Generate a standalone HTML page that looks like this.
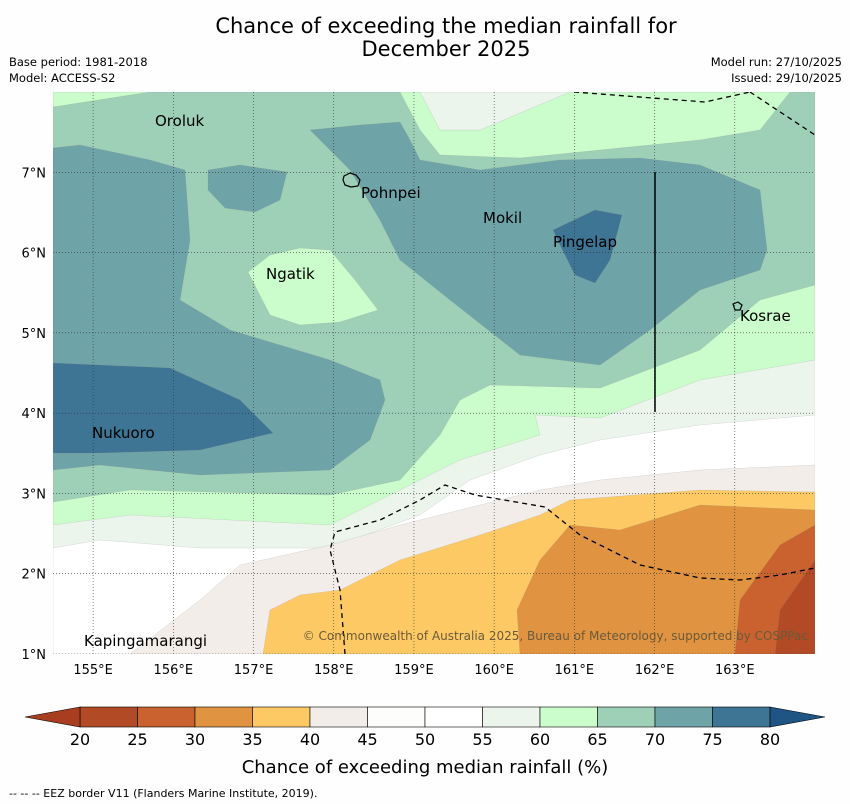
<!DOCTYPE html>
<html><head><meta charset="utf-8"><style>
body{margin:0;background:#fdfefd;font-family:"Liberation Sans","DejaVu Sans",sans-serif;}
svg{display:block}
</style></head><body>
<svg width="850" height="804" viewBox="0 0 850 804">
<rect width="850" height="804" fill="#fdfefd"/>
<text x="446" y="33" font-size="21" text-anchor="middle" font-family="DejaVu Sans">Chance of exceeding the median rainfall for</text>
<text x="446" y="56" font-size="21" text-anchor="middle" font-family="DejaVu Sans">December 2025</text>
<g font-size="11.5" font-family="DejaVu Sans">
<text x="9" y="66">Base period: 1981-2018</text>
<text x="9" y="82">Model: ACCESS-S2</text>
<text x="842" y="66" text-anchor="end">Model run: 27/10/2025</text>
<text x="842" y="82" text-anchor="end">Issued: 29/10/2025</text>
</g>
<defs><clipPath id="mc"><rect x="53" y="92" width="762" height="562"/></clipPath></defs>
<g id="map" clip-path="url(#mc)"></g>
<g id="axes" font-size="13" font-family="DejaVu Sans"></g>
<g id="cbar" font-size="16" font-family="DejaVu Sans"></g>
<text x="425" y="773" font-size="18" text-anchor="middle" font-family="DejaVu Sans">Chance of exceeding median rainfall (%)</text>
<text x="9" y="797" font-size="11" font-family="DejaVu Sans">--  --  -- EEZ border V11 (Flanders Marine Institute, 2019).</text>
</svg>
<script>
const levels=[20,25,30,35,40,45,50,55,60,65,70,75,80];
const levelColors=["#b24a26","#c9622f","#e09341","#fdc964","#f2ede8","#fdfefb","#ffffff","#ebf5ec","#cbfccb","#9ecfb7","#6ea3a7","#3e7494"];
const lowColor="#a83e1f", highColor="#1f5585";
const lonTicks=[155,156,157,158,159,160,161,162,163];
const latTicks=[1,2,3,4,5,6,7];
const lon0=154.5,lon1=164,lat0=1,lat1=8;
const X=l=>53+(l-lon0)/(lon1-lon0)*762;
const Y=l=>654-(l-lat0)/(lat1-lat0)*562;
const NS="http://www.w3.org/2000/svg";
function mk(t,a,p){const e=document.createElementNS(NS,t);for(const k in a)e.setAttribute(k,a[k]);p.appendChild(e);return e;}
const map=document.getElementById('map');
const regions=[
 ["bg",6,"53,92 815,92 815,654 53,654"],
 ["c55",7,"53,92 815,92 815,415 700,425 600,440 540,455 470,480 420,515 330,548 200,548 100,540 53,548"],
 ["c60",8,"53,92 420,92 440,130 480,130 570,92 815,92 815,360 700,380 600,418 535,415 540,435 460,460 400,490 330,525 130,515 53,525"],
 ["c65",9,"53,107 150,92 400,92 420,130 440,155 520,158 600,150 700,140 760,130 790,92 815,92 815,285 760,300 700,350 600,388 490,385 460,400 440,435 400,480 330,495 130,490 53,502"],
 ["c60b",8,"248,272 270,255 300,248 330,250 355,280 378,310 340,322 300,325 270,315"],
 ["c70a",10,"53,148 80,145 150,160 185,170 190,240 180,300 230,330 330,360 380,380 385,400 370,440 330,470 200,475 100,465 53,470"],
 ["c70b",10,"310,130 360,125 400,122 410,140 420,160 480,170 560,160 640,158 700,165 760,190 767,250 760,270 700,290 650,330 600,365 520,355 450,300 400,260 380,220 350,170"],
 ["c70c",10,"208,170 240,165 287,172 280,200 255,212 225,208 208,190"],
 ["c75a",11,"53,363 170,368 240,400 273,433 200,450 100,453 53,453"],
 ["c75b",11,"553,230 595,210 622,215 610,260 595,283 575,275 560,245"],
 ["d45",4,"130,654 200,600 240,565 330,545 400,525 460,510 540,490 600,480 700,470 815,465 815,654"],
 ["d40",3,"263,654 270,610 300,595 340,590 400,560 480,535 540,515 570,500 700,490 815,492 815,654"],
 ["d35",2,"520,654 517,610 540,560 570,525 620,530 700,505 815,510 815,654"],
 ["d30",1,"735,654 740,600 780,545 815,525 815,654"],
 ["d25",0,"775,654 780,610 815,560 815,654"]
];
for(const r of regions){const p=mk('polygon',{points:r[2],fill:levelColors[r[1]],stroke:"#888",'stroke-width':0.3,'stroke-opacity':0.5},map);

}
for(const l of lonTicks){const g=mk('line',{x1:X(l),x2:X(l),y1:92,y2:654,stroke:'#333','stroke-width':0.6,'stroke-dasharray':'1,2'},map);

}
for(const l of latTicks){const g=mk('line',{x1:53,x2:815,y1:Y(l),y2:Y(l),stroke:'#333','stroke-width':0.6,'stroke-dasharray':'1,2'},map);

}
const eez=["574,92 705,102 750,92","750,92 815,135","345,654 340,590 330,550 335,532 380,520 420,500 445,485 475,495 545,507 580,535 640,565 700,578 740,580 780,575 815,568"];
for(const e of eez){const l=mk('polyline',{points:e,fill:'none',stroke:'#000','stroke-width':1.3,'stroke-dasharray':'5,4'},map);

}
const sl=mk('line',{x1:655,x2:655,y1:172,y2:412,stroke:'#000','stroke-width':1.5},map);


const isl=mk('path',{d:"M344,176 l6,-3 6,2 4,5 -2,6 -7,1 -6,-2 -2,-5z M733,304 l5,-2 4,3 -2,5 -5,0z",fill:'none',stroke:'#000','stroke-width':1.2},map);


const places=[["Oroluk",155,126],["Pohnpei",361,198],["Mokil",483,223],["Pingelap",553,247],["Ngatik",266,279],["Kosrae",740,321],["Nukuoro",92,438],["Kapingamarangi",84,646]];
for(const p of places){const t=mk('text',{x:p[1],y:p[2],'font-size':15,'font-family':'DejaVu Sans'},map);t.textContent=p[0];

}
const cp=mk('text',{x:808,y:640,'font-size':12,'text-anchor':'end',fill:'#6b5a3a','font-family':'DejaVu Sans'},map);
cp.textContent="© Commonwealth of Australia 2025, Bureau of Meteorology, supported by COSPPac";


const ax=document.getElementById('axes');
for(const l of lonTicks){const t=mk('text',{x:X(l),y:674,'text-anchor':'middle'},ax);t.textContent=l+"°E";

}
for(const l of latTicks){const t=mk('text',{x:46,y:Y(l)+5,'text-anchor':'end'},ax);t.textContent=l+"°N";

}
const cb=document.getElementById('cbar');
const cx0=80,cw=57.5,cy=707,ch=20;
for(let i=0;i<levelColors.length;i++){const r=mk('rect',{x:cx0+i*cw,y:cy,width:cw,height:ch,fill:levelColors[i],stroke:'#000','stroke-width':0.6},cb);

}
const tl=mk('polygon',{points:`${cx0},${cy} 25,${cy+ch/2} ${cx0},${cy+ch}`,fill:lowColor,stroke:'#000','stroke-width':0.6},cb);


const xe=cx0+levelColors.length*cw;
const tr=mk('polygon',{points:`${xe},${cy} 825,${cy+ch/2} ${xe},${cy+ch}`,fill:highColor,stroke:'#000','stroke-width':0.6},cb);


levels.forEach((v,i)=>{const t=mk('text',{x:cx0+i*cw,y:745,'text-anchor':'middle'},cb);t.textContent=v;

});
</script>
</body></html>
